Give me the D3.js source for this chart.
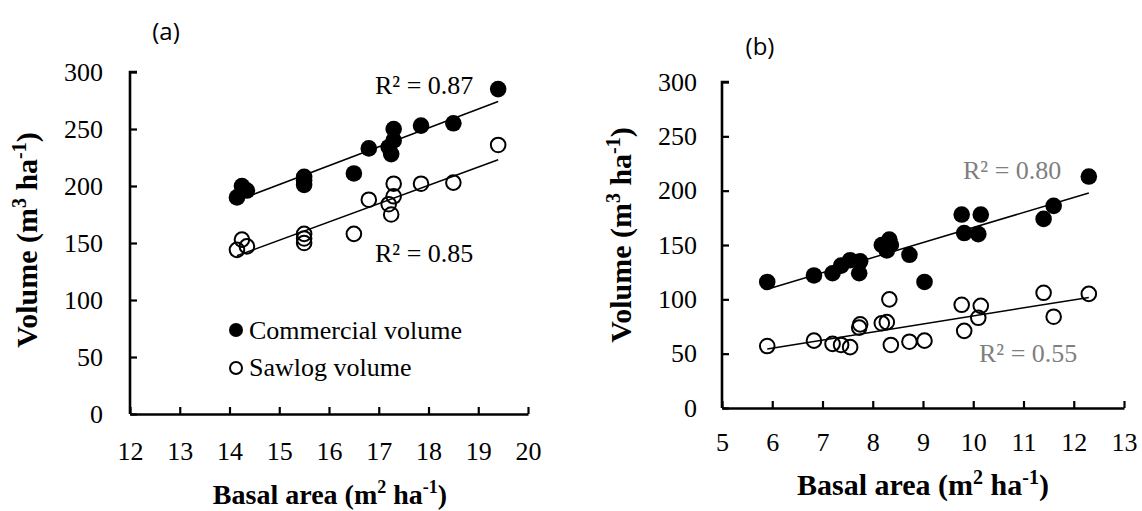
<!DOCTYPE html>
<html>
<head>
<meta charset="utf-8">
<script src="https://cdn.jsdelivr.net/npm/d3@7"></script>
<style>
  body { margin: 0; background: #fff; }
  svg { display: block; }
</style>
</head>
<body>
<svg id="chart" width="1142" height="511"></svg>
<script>
// panel (a)
var basalA = [14.15, 14.25, 14.35, 15.5, 15.5, 15.5, 16.5, 16.8, 17.2, 17.25, 17.3, 17.3, 17.85, 18.5, 19.4];
var commercialA = [190, 200, 196, 201, 205, 208, 211, 233, 234, 228, 240, 250, 253, 255, 285];
var sawlogA = [144, 153, 147, 150, 154, 158, 158, 188, 184, 175, 191, 202, 202, 203, 236];
var xTicksA = [12, 13, 14, 15, 16, 17, 18, 19, 20];

// panel (b)
var basalB = [5.9, 6.83, 7.2, 7.37, 7.55, 7.73, 7.75, 8.18, 8.28, 8.33, 8.36, 8.73, 9.03, 9.77, 9.82, 10.1, 10.15, 11.4, 11.6, 12.3];
var commercialB = [116, 122, 124, 131, 136, 124, 135, 150, 145, 155, 150, 141, 116, 178, 161, 160, 178, 174, 186, 213];
var sawlogB = [57, 62, 59, 58, 56, 74, 77, 78, 79, 100, 58, 61, 62, 95, 71, 83, 94, 106, 84, 105];
var xTicksB = [5, 6, 7, 8, 9, 10, 11, 12, 13];

var yTicks = [0, 50, 100, 150, 200, 250, 300];
var r2A = ["R² = 0.87", "R² = 0.85"];
var r2B = ["R² = 0.80", "R² = 0.55"];

var serif = "Liberation Serif";
var svg = d3.select("#chart");

// least squares line over the x range of the data
function fit(xs, ys) {
  var mx = d3.mean(xs), my = d3.mean(ys);
  var sxy = d3.sum(xs, (v, i) => (v - mx) * (ys[i] - my));
  var sxx = d3.sum(xs, v => (v - mx) * (v - mx));
  var b = sxy / sxx, a = my - b * mx;
  var x0 = d3.min(xs), x1 = d3.max(xs);
  return [[x0, a + b * x0], [x1, a + b * x1]];
}

function unitTitle(t, label, big, sup) {
  var small = Math.round(big * 0.65) + "px";
  t.append("tspan").text(label + "(m");
  t.append("tspan").attr("font-size", small).attr("dy", -big * 0.38).text(sup);
  t.append("tspan").attr("dy", big * 0.38).text(" ha");
  t.append("tspan").attr("font-size", small).attr("dy", -big * 0.38).text("-1");
  t.append("tspan").attr("dy", big * 0.38).text(")");
}

function panel(p) {
  var x = d3.scaleLinear().domain(d3.extent(p.xTicks)).range([p.left, p.right]);
  var y = d3.scaleLinear().domain([0, 300]).range([p.bottom, p.top]);
  var g = svg.append("g");

  var xa = g.append("g")
    .attr("transform", "translate(0," + p.bottom + ")")
    .call(d3.axisBottom(x).tickValues(p.xTicks).tickFormat(d3.format("d"))
      .tickSizeInner(-7).tickSizeOuter(0).tickPadding(p.xPad));
  var ya = g.append("g")
    .attr("transform", "translate(" + p.left + ",0)")
    .call(d3.axisLeft(y).tickValues(yTicks).tickSizeInner(-7).tickSizeOuter(0).tickPadding(p.yPad));

  [xa, ya].forEach(function(a) {
    a.attr("font-family", serif).attr("font-size", 26);
    a.select(".domain").attr("stroke", "#000").attr("stroke-width", 2.6);
    a.selectAll(".tick line").attr("stroke", "#000").attr("stroke-width", 2.2);
    a.selectAll(".tick text").attr("fill", "#000")
      .style("font-family", serif).style("font-size", "26px");
  });
  // top tick of y axis
  ya.select(".domain").attr("d", "M7," + p.top + "H0V" + p.bottom);

  var lines = [fit(p.xs, p.com), fit(p.xs, p.saw)];
  g.selectAll(".trend")
    .data(lines)
    .enter()
    .append("line")
    .attr("x1", d => x(d[0][0])).attr("y1", d => y(d[0][1]))
    .attr("x2", d => x(d[1][0])).attr("y2", d => y(d[1][1]))
    .attr("stroke", "#000").attr("stroke-width", 1.5);

  g.selectAll(".com")
    .data(p.xs)
    .enter()
    .append("circle")
    .attr("cx", d => x(d)).attr("cy", (d, i) => y(p.com[i]))
    .attr("r", 8.3).attr("fill", "#000");

  g.selectAll(".saw")
    .data(p.xs)
    .enter()
    .append("circle")
    .attr("cx", d => x(d)).attr("cy", (d, i) => y(p.saw[i]))
    .attr("r", 7.3).attr("fill", "none").attr("stroke", "#000").attr("stroke-width", 2);

  // R² labels
  p.r2.forEach(function(t, i) {
    g.append("text")
      .attr("x", p.r2pos[i][0]).attr("y", p.r2pos[i][1])
      .style("font-family", serif).style("font-size", "26px")
      .attr("fill", p.r2color)
      .text(t);
  });

  // axis titles
  var xt = g.append("text")
    .attr("x", p.xTitle[0]).attr("y", p.xTitle[1])
    .attr("text-anchor", "middle")
    .style("font-family", serif).style("font-size", p.xFont + "px").style("font-weight", "bold");
  unitTitle(xt, p.xLabel, p.xFont, "2");

  var yt = g.append("text")
    .attr("transform", "translate(" + p.yTitle[0] + "," + p.yTitle[1] + ") rotate(-90)")
    .attr("text-anchor", "middle")
    .style("font-family", serif).style("font-size", "30px").style("font-weight", "bold");
  unitTitle(yt, p.yLabel, 30, "3");

  g.append("text")
    .attr("x", p.tag[0]).attr("y", p.tag[1])
    .attr("text-anchor", "middle")
    .style("font-family", "Open Sans").style("font-size", "24px")
    .text(p.tagText);
  return g;
}

var ga = panel({
  xs: basalA, com: commercialA, saw: sawlogA, xTicks: xTicksA,
  left: 130, right: 528, top: 72, bottom: 414, xPad: 28, yPad: 27,
  r2: r2A, r2pos: [[375, 94], [375, 262]], r2color: "#000",
  xTitle: [330, 504], xFont: 28, xLabel: "Basal area ",
  yTitle: [37, 240], yLabel: "Volume  ",
  tag: [166, 40], tagText: "(a)"
});

// legend for panel (a)
var legend = ga.append("g");
legend.append("circle").attr("cx", 236).attr("cy", 330).attr("r", 7).attr("fill", "#000");
legend.append("circle").attr("cx", 236).attr("cy", 368).attr("r", 6).attr("fill", "none")
  .attr("stroke", "#000").attr("stroke-width", 2);
legend.append("text").attr("x", 249).attr("y", 339)
  .style("font-family", serif).style("font-size", "26px").text("Commercial volume");
legend.append("text").attr("x", 249).attr("y", 376)
  .style("font-family", serif).style("font-size", "26px").text("Sawlog volume");

panel({
  xs: basalB, com: commercialB, saw: sawlogB, xTicks: xTicksB,
  left: 722, right: 1124, top: 82, bottom: 408, xPad: 25, yPad: 25,
  r2: r2B, r2pos: [[963, 179], [979, 362]], r2color: "#7f7f7f",
  xTitle: [923, 495], xFont: 30, xLabel: "Basal area  ",
  yTitle: [631, 235], yLabel: "Volume ",
  tag: [760, 55], tagText: "(b)"
});
</script>
</body>
</html>
